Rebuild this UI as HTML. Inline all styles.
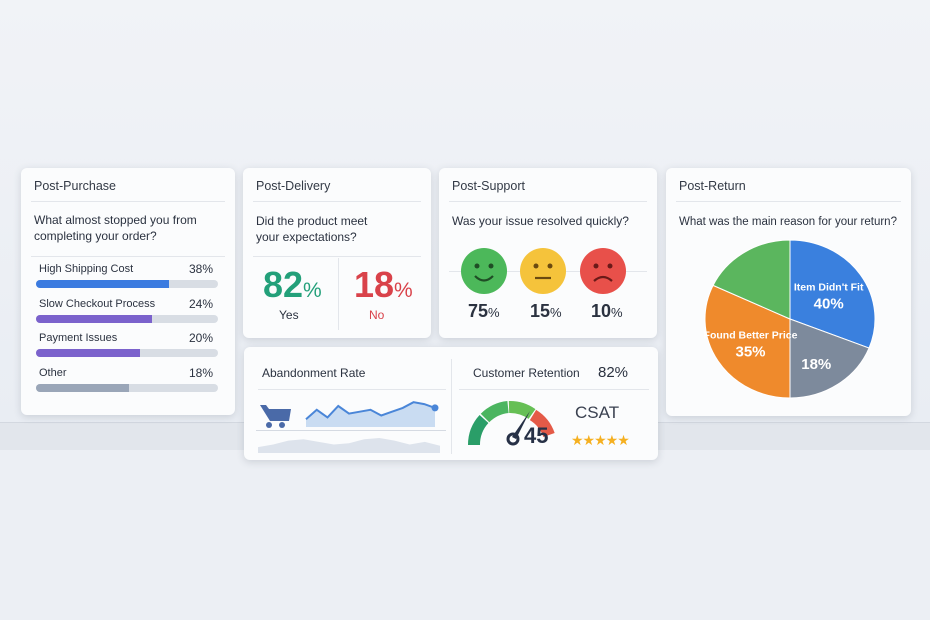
<!DOCTYPE html>
<html><head><meta charset="utf-8">
<style>
*{box-sizing:border-box;margin:0;padding:0}
body{width:930px;height:620px;overflow:hidden;background:#eceff4;font-family:"Liberation Sans",sans-serif;color:#2b3240;position:relative}
.band{position:absolute;left:0;top:0;width:930px;height:422px;background:linear-gradient(#f1f3f7,#e9edf3)}
.strip{position:absolute;left:0;top:422px;width:930px;height:28px;background:#e2e6ec;border-top:1px solid #d3d8e0}
.card{position:absolute;background:#fbfcfd;border-radius:6px;box-shadow:0 2px 8px rgba(60,70,90,.18)}
.title{position:absolute;left:13px;top:11px;font-size:12.5px;color:#333a46}
.hr{position:absolute;height:1px;background:#e3e6eb}
.q{position:absolute;font-size:12px;line-height:16px;color:#2b3240}
.abs{position:absolute}
</style></head><body>
<div class="band"></div>
<div class="strip"></div>

<!-- Post-Purchase -->
<div class="card" style="left:21px;top:168px;width:214px;height:247px">
  <div class="title">Post-Purchase</div>
  <div class="hr" style="left:10px;right:10px;top:33px"></div>
  <div class="q" style="left:13px;top:44px">What almost stopped you from completing your order?</div>
  <div class="hr" style="left:10px;right:10px;top:88px"></div>
  <div id="bars"></div>
</div>

<!-- Post-Delivery -->
<div class="card" style="left:243px;top:168px;width:188px;height:170px">
  <div class="title">Post-Delivery</div>
  <div class="hr" style="left:10px;right:10px;top:33px"></div>
  <div class="q" style="left:13px;top:45px">Did the product meet<br>your expectations?</div>
  <div class="hr" style="left:10px;right:10px;top:88px"></div>
  <div class="abs" style="left:95px;top:90px;width:1px;height:72px;background:#e3e6eb"></div>
  <div class="abs" style="left:20px;top:96px;font-size:36px;font-weight:bold;color:#23a07a">82<span style="font-size:21px;font-weight:normal">%</span></div>
  <div class="abs" style="left:36px;top:140px;font-size:12px">Yes</div>
  <div class="abs" style="left:111px;top:96px;font-size:36px;font-weight:bold;color:#d9424a">18<span style="font-size:21px;font-weight:normal">%</span></div>
  <div class="abs" style="left:126px;top:140px;font-size:12px;color:#d9424a">No</div>
</div>

<!-- Post-Support -->
<div class="card" style="left:439px;top:168px;width:218px;height:170px">
  <div class="title">Post-Support</div>
  <div class="hr" style="left:10px;right:10px;top:33px"></div>
  <div class="q" style="left:13px;top:45px">Was your issue resolved quickly?</div>
  <div class="hr" style="left:10px;right:10px;top:103px"></div>
  <svg class="abs" style="left:0;top:75px" width="218" height="60">
    <g transform="translate(45,28)"><circle r="23" fill="#4cb85a"/><circle cx="-7" cy="-5" r="2.5" fill="#1f4d25"/><circle cx="7" cy="-5" r="2.5" fill="#1f4d25"/><path d="M-9 5 Q0 14 9 5" stroke="#1f4d25" stroke-width="2.2" fill="none"/></g>
    <g transform="translate(104,28)"><circle r="23" fill="#f5c33b"/><circle cx="-7" cy="-5" r="2.5" fill="#6b4a10"/><circle cx="7" cy="-5" r="2.5" fill="#6b4a10"/><path d="M-8 7 H8" stroke="#6b4a10" stroke-width="2.2"/></g>
    <g transform="translate(164,28)"><circle r="23" fill="#e8504a"/><circle cx="-7" cy="-5" r="2.5" fill="#6a1a18"/><circle cx="7" cy="-5" r="2.5" fill="#6a1a18"/><path d="M-9 10 Q0 2 9 10" stroke="#6a1a18" stroke-width="2.2" fill="none"/></g>
  </svg>
  <div class="abs" style="left:29px;top:133px;font-size:18px;font-weight:bold">75<span style="font-size:13px;font-weight:normal">%</span></div>
  <div class="abs" style="left:91px;top:133px;font-size:18px;font-weight:bold">15<span style="font-size:13px;font-weight:normal">%</span></div>
  <div class="abs" style="left:152px;top:133px;font-size:18px;font-weight:bold">10<span style="font-size:13px;font-weight:normal">%</span></div>
</div>

<!-- Post-Return -->
<div class="card" style="left:666px;top:168px;width:245px;height:248px">
  <div class="title">Post-Return</div>
  <div class="hr" style="left:10px;right:10px;top:33px"></div>
  <div class="q" style="left:13px;top:46px;font-size:11.5px">What was the main reason for your return?</div>
  <svg id="pie" class="abs" style="left:0;top:0" width="245" height="248"></svg>
</div>

<!-- Bottom metrics -->
<div class="card" style="left:244px;top:347px;width:414px;height:113px">
  <div class="abs" style="left:207px;top:12px;width:1px;height:95px;background:#e3e6eb"></div>
  <div class="abs" style="left:18px;top:19px;font-size:12px">Abandonment Rate</div>
  <div class="hr" style="left:14px;width:188px;top:42px"></div>
  <div class="hr" style="left:12px;width:190px;top:83px;background:#d5dae2"></div>
  <svg class="abs" style="left:0;top:40px" width="207" height="70">
    <g fill="#4a6aa8"><path d="M16 18 h6 l3 4 h22 l-2 12 h-19 z"/><circle cx="25" cy="38" r="3"/><circle cx="38" cy="38" r="3"/></g>
    <path id="sparkA" fill="#c9dcf2" stroke="none"></path>
    <path id="sparkL" fill="none" stroke="#4a86d8" stroke-width="2"></path>
    <path id="sparkB" fill="#dde3ec"></path>
  </svg>
  <div class="abs" style="left:229px;top:19px;font-size:12px">Customer Retention</div>
  <div class="abs" style="left:354px;top:17px;font-size:15px">82%</div>
  <div class="hr" style="left:215px;width:190px;top:42px"></div>
  <svg class="abs" style="left:220px;top:40px" width="100" height="70">
    <path d="M10 58 A38 38 0 0 1 20 32" stroke="#2a9e68" stroke-width="12" fill="none"/>
    <path d="M21 31 A38 38 0 0 1 44 20" stroke="#4bb560" stroke-width="12" fill="none"/>
    <path d="M45 20 A38 38 0 0 1 68 27" stroke="#66bf55" stroke-width="12" fill="none"/>
    <path d="M69 28 A38 38 0 0 1 85 48" stroke="#e45a48" stroke-width="12" fill="none"/>
    <path d="M48 50 L66 24 L52 52 z" fill="#263046"/><circle cx="49" cy="52" r="5" fill="none" stroke="#263046" stroke-width="3"/>
  </svg>
  <div class="abs" style="left:280px;top:76px;font-size:22px;font-weight:bold;color:#263046">45</div>
  <div class="abs" style="left:331px;top:56px;font-size:17px;color:#3a4150">CSAT</div>
  <div class="abs" style="left:327px;top:85px;font-size:14px;color:#f5b021;letter-spacing:-1px">★★★★★</div>
</div>

<script>
// Post-Purchase bars
const barLabels=["High Shipping Cost","Slow Checkout Process","Payment Issues","Other"];
const barValues=[38,24,20,18];
const barFill=[0.73,0.64,0.57,0.51];
const barColors=["#3b7be0","#7b62cc","#7b62cc","#9aa6b8"];
const bars=document.getElementById('bars');
barLabels.forEach((l,i)=>{
  const y=95+i*34.5;
  const lab=document.createElement('div');
  lab.className='abs';lab.style.cssText=`left:18px;top:${y}px;font-size:11px`;lab.textContent=l;
  
  
  bars.appendChild(lab);
  const val=document.createElement('div');
  val.className='abs';val.style.cssText=`right:22px;top:${y-1}px;font-size:12px`;val.textContent=barValues[i]+'%';
  
  
  bars.appendChild(val);
  const tr=document.createElement('div');
  tr.className='abs';tr.style.cssText=`left:15px;top:${y+17}px;width:182px;height:8px;border-radius:4px;background:#d8dde4;overflow:hidden`;
  
  
  const f=document.createElement('div');
  f.style.cssText=`width:${barFill[i]*182}px;height:8px;background:${barColors[i]}`;
  
  
  tr.appendChild(f);bars.appendChild(tr);
});

// Pie
const pieNames=["Item Didn't Fit","Other","Found Better Price","Wrong Item"];
const pieValues=[31,19,32,18];
const pieLabels=["40%","18%","35%",""];
const pieColors=["#3a80de","#7d8a9c","#ef8a2c","#5bb65e"];
const pie=document.getElementById('pie'),NS='http://www.w3.org/2000/svg';
const cx=124,cy=151,rx=85,ry=79;
const tot=pieValues.reduce((a,b)=>a+b,0);
let a0=0;
pieValues.forEach((v,i)=>{
  const a1=a0+v/tot*2*Math.PI;
  const p=(a)=>[cx+rx*Math.sin(a),cy-ry*Math.cos(a)];
  const [x0,y0]=p(a0),[x1,y1]=p(a1);
  const path=document.createElementNS(NS,'path');
  path.setAttribute('d',`M${cx} ${cy} L${x0} ${y0} A${rx} ${ry} 0 ${a1-a0>Math.PI?1:0} 1 ${x1} ${y1} Z`);
  path.setAttribute('fill',pieColors[i]);path.setAttribute('stroke','#fff');path.setAttribute('stroke-width','1');
  
  
  pie.appendChild(path);
  const m=(a0+a1)/2,[lx,ly]=[cx+rx*0.55*Math.sin(m),cy-ry*0.55*Math.cos(m)];
  if(pieLabels[i]){
    if(i!==1){
      const t=document.createElementNS(NS,'text');
      t.setAttribute('x',lx);t.setAttribute('y',ly-4);t.setAttribute('text-anchor','middle');
      t.setAttribute('fill','#fff');t.setAttribute('font-size','10.5');t.setAttribute('font-weight','bold');
      t.textContent=pieNames[i];
      
      
      pie.appendChild(t);
    }
    const t2=document.createElementNS(NS,'text');
    t2.setAttribute('x',lx);t2.setAttribute('y',ly+(i===1?14:14));t2.setAttribute('text-anchor','middle');
    t2.setAttribute('fill','#fff');t2.setAttribute('font-size','15');t2.setAttribute('font-weight','bold');
    t2.textContent=pieLabels[i];
    
    
    pie.appendChild(t2);
  }
  a0=a1;
});

// Sparkline
const sparkValues=[3,8,4,10,6,7,8,5,7,9,12,11,9];
const waveValues=[3,5,8,9,7,5,6,9,10,8,5,7,4];
const sx=i=>62+i*(129/(sparkValues.length-1));
const sy=v=>38-v*1.9;
let d='';sparkValues.forEach((v,i)=>d+=(i?'L':'M')+sx(i)+' '+sy(v));
document.getElementById('sparkL').setAttribute('d',d);
document.getElementById('sparkA').setAttribute('d',d+`L${sx(sparkValues.length-1)} 40 L${sx(0)} 40 Z`);
const last=document.createElementNS(NS,'circle');
last.setAttribute('cx',sx(sparkValues.length-1));last.setAttribute('cy',sy(sparkValues[sparkValues.length-1]));last.setAttribute('r','3.5');last.setAttribute('fill','#4a86d8');


last.parentNode;document.getElementById('sparkL').parentNode.appendChild(last);
const wx=i=>14+i*(182/(waveValues.length-1));
let w='M14 66';waveValues.forEach((v,i)=>w+='L'+wx(i)+' '+(64-v*1.3));w+='L196 66Z';
document.getElementById('sparkB').setAttribute('d',w);
</script>
</body></html>
